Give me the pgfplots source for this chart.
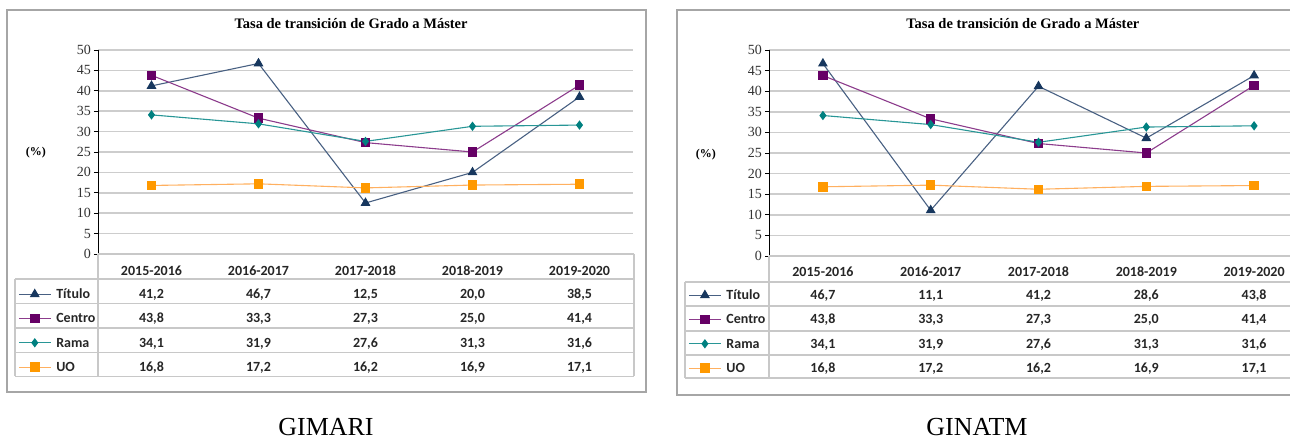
\documentclass[border=0pt]{standalone}
\usepackage{fontspec}
\setmainfont{Liberation Serif}
\newfontfamily\carl{Carlito}
\usepackage{pgfplots}
\pgfplotsset{compat=1.18}

\definecolor{titL}{RGB}{72,96,130}
\definecolor{titM}{RGB}{23,55,94}
\definecolor{cenL}{RGB}{140,60,140}
\definecolor{cenM}{RGB}{102,0,102}
\definecolor{ramL}{RGB}{40,150,150}
\definecolor{ramM}{RGB}{0,128,128}
\definecolor{uoL}{RGB}{255,176,96}
\definecolor{uoM}{RGB}{255,153,0}
\definecolor{gridc}{RGB}{205,205,205}
\definecolor{tabc}{RGB}{200,200,200}
\definecolor{framec}{RGB}{166,166,166}

\newcommand\tabfont{\carl\bfseries\fontsize{14}{14}\selectfont}

\pgfplotsset{
  legend image code/.code={\draw[mark repeat=2,mark phase=2,#1] plot coordinates {(0pt,0pt)(16pt,0pt)(32pt,0pt)};},
  panel/.style={
    scale only axis, xmin=-0.5, xmax=4.5, ymin=0, ymax=50,
    ytick={0,5,...,50}, xtick={0,...,4},
    xticklabels={2015-2016,2016-2017,2017-2018,2018-2019,2019-2020},
    axis lines*=left, x axis line style={draw=none},
    y axis line style={black, line width=1pt},
    xtick style={draw=none}, ytick style={black, line width=0.8pt},
    tick align=outside, major tick length=4pt,
    ymajorgrids, grid style={gridc, line width=1.6pt},
    clip=false,
    /pgf/number format/assume math mode=true,
    yticklabel style={font=\fontsize{14}{14}\selectfont, text=black!80, inner sep=3pt},
    xticklabel style={font=\tabfont, anchor=center, text height=9pt, text depth=0pt, text=black!85},
    title style={font=\bfseries\fontsize{14.5}{14.5}\selectfont, anchor=center, yshift=20pt},
    ylabel={(\%)},
    ylabel style={rotate=-90, font=\bfseries\fontsize{12}{12}\selectfont, anchor=center},
    legend cell align=left,
    legend style={draw=none, fill=none, anchor=north west, inner xsep=0pt, inner ysep=0pt,
      row sep=0pt, column sep=5pt,
      nodes={inner sep=0pt, minimum height=24.3pt, text height=9pt, text depth=0pt, font=\tabfont, text=black!85}},
  },
  tab/.style 2 args={
    nodes near coords={\pgfmathprintnumber[fixed,fixed zerofill,precision=1,use comma]{\pgfplotspointmeta}},
    visualization depends on={y \as \rawy},
    every node near coord/.append style={anchor=center, text height=9pt, text depth=0pt,
      font=\tabfont, text=black!85, yshift={-#1-#2*\rawy}}},
  titulo/.style={color=titL, line width=1.1pt, mark=triangle*, mark size=4.6pt, mark options={draw=titM, fill=titM}},
  centro/.style={color=cenL, line width=1.1pt, mark=square*, mark size=4.2pt, mark options={draw=cenM, fill=cenM}},
  rama/.style={color=ramL, line width=1.1pt, mark=diamond*, mark size=3.8pt, mark options={draw=ramM, fill=ramM}},
  uo/.style={color=uoL, line width=1.1pt, mark=square*, mark size=4.2pt, mark options={draw=uoM, fill=uoM}},
}

\begin{document}
\begin{tikzpicture}[x=1pt,y=1pt]
\path[use as bounding box] (0,0) rectangle (1290,441);
\clip (0,0) rectangle (1290,441);

% frames
\draw[framec, line width=1.2pt] (7,431) rectangle (646,49);
\draw[framec, line width=1.2pt] (677,431) rectangle (1310,46);

% ---------- left panel ----------
\begin{axis}[panel, at={(98pt,187pt)}, anchor=south west, width=535pt, height=204pt,
  title={Tasa de transición de Grado a Máster},
  title style={at={(0.473,1)}},
  ylabel style={at={(axis description cs:-0.116,0.495)}},
  xticklabel style={yshift=-13pt},
  legend style={at={(axis description cs:-0.1495,-0.1365)}}]
\addplot[titulo, tab={40}{4.08}] coordinates {(0,41.2)(1,46.7)(2,12.5)(3,20.0)(4,38.5)};
\addlegendentry{Título}
\addplot[centro, tab={64.3}{4.08}] coordinates {(0,43.8)(1,33.3)(2,27.3)(3,25.0)(4,41.4)};
\addlegendentry{Centro}
\addplot[rama, tab={88.6}{4.08}] coordinates {(0,34.1)(1,31.9)(2,27.6)(3,31.3)(4,31.6)};
\addlegendentry{Rama}
\addplot[uo, tab={112.9}{4.08}] coordinates {(0,16.8)(1,17.2)(2,16.2)(3,16.9)(4,17.1)};
\addlegendentry{UO}
\end{axis}

% left table lines
\begin{scope}[tabc, line width=1.4pt]
\draw (98,187) -- (634,187);
\foreach \yy in {279,303.5,328,352.5,376.5} {\draw (15,441-\yy) -- (634,441-\yy);}
\draw (15,441-279) -- (15,441-376.5);
\draw (98,187) -- (98,441-376.5);
\draw (634,187) -- (634,441-376.5);
\end{scope}

% ---------- right panel ----------
\begin{axis}[panel, at={(769pt,185pt)}, anchor=south west, width=539pt, height=206pt,
  title={Tasa de transición de Grado a Máster},
  title style={at={(0.471,1)}},
  ylabel style={at={(axis description cs:-0.117,0.49)}},
  xticklabel style={yshift=-12pt},
  legend style={at={(axis description cs:-0.150,-0.1303)}}]
\addplot[titulo, tab={39}{4.12}] coordinates {(0,46.7)(1,11.1)(2,41.2)(3,28.6)(4,43.8)};
\addlegendentry{Título}
\addplot[centro, tab={63.3}{4.12}] coordinates {(0,43.8)(1,33.3)(2,27.3)(3,25.0)(4,41.4)};
\addlegendentry{Centro}
\addplot[rama, tab={87.6}{4.12}] coordinates {(0,34.1)(1,31.9)(2,27.6)(3,31.3)(4,31.6)};
\addlegendentry{Rama}
\addplot[uo, tab={111.9}{4.12}] coordinates {(0,16.8)(1,17.2)(2,16.2)(3,16.9)(4,17.1)};
\addlegendentry{UO}
\end{axis}

% right table lines
\begin{scope}[tabc, line width=1.4pt]
\draw (769,185) -- (1310,185);
\foreach \yy in {282,306,331,355,378} {\draw (685,441-\yy) -- (1310,441-\yy);}
\draw (685,441-282) -- (685,441-378);
\draw (769,185) -- (769,441-378);
\end{scope}

% captions
\node[anchor=base, inner sep=0pt, font=\fontsize{26}{26}\selectfont] at (326,5) {GIMARI};
\node[anchor=base, inner sep=0pt, font=\fontsize{26}{26}\selectfont] at (977,5) {GINATM};
\end{tikzpicture}
\end{document}
